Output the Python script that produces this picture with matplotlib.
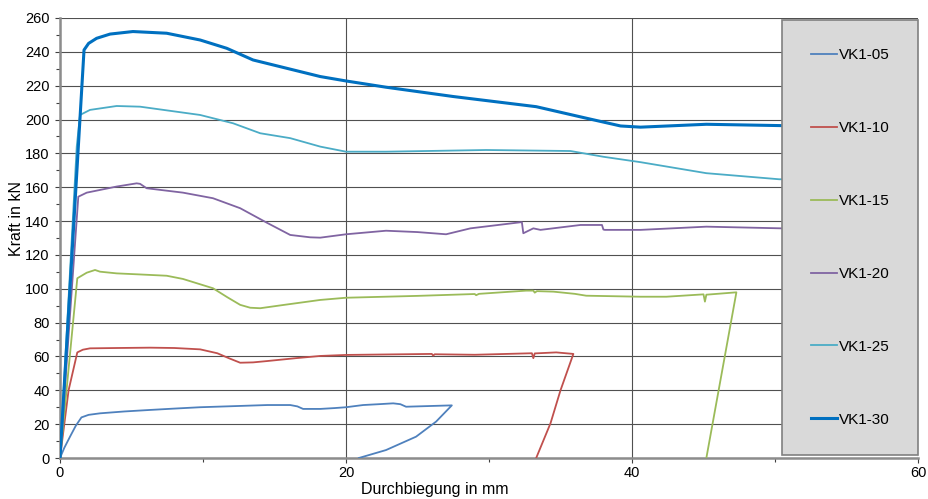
import matplotlib
matplotlib.use("Agg")
import matplotlib.pyplot as plt
from matplotlib.ticker import MultipleLocator

plt.rcParams['font.family'] = ['Liberation Sans', 'DejaVu Sans']

labels = ["VK1-05", "VK1-10", "VK1-15", "VK1-20", "VK1-25", "VK1-30"]
colors = ["#4F81BD", "#C0504D", "#9BBB59", "#8064A2", "#4BACC6", "#0070C0"]

x05 = [0, 0.3, 0.7, 1.1, 1.5, 2.0, 2.8, 4.5, 6.3, 8, 9.8, 12, 14.5, 16.1, 16.6, 17.0, 18.2, 19.2, 20.0, 21.2,
       22.3, 23.3, 23.8, 24.2, 25, 27.4, 26.3, 24.9, 22.8, 20.9]
y05 = [0, 6, 12.6, 19, 24, 25.5, 26.4, 27.5, 28.4, 29.2, 30, 30.6, 31.3, 31.3, 30.5, 29, 29, 29.5, 30, 31.3,
       31.8, 32.3, 31.8, 30.3, 30.5, 31.1, 21.5, 12.6, 4.7, 0]

x10 = [0, 0.6, 1.21, 1.6, 2.1, 4, 6.3, 8, 9.8, 11.0, 11.8, 12.6, 13.5, 14.5, 16.5, 18.2, 20.0, 23, 26.0, 26.1,
       26.2, 29, 33.0, 33.1, 33.2, 34.7, 35.9, 35.0, 34.3, 33.3]
y10 = [0, 40, 62.4, 64, 64.8, 65, 65.2, 65, 64.2, 61.9, 59, 56.3, 56.5, 57.3, 59, 60.3, 60.9, 61.2, 61.5, 60.5,
       61.3, 61, 61.9, 59, 61.8, 62.4, 61.5, 40, 20.5, 0]

x15 = [0, 1.21, 1.87, 2.45, 2.8, 3.96, 5.5, 7.46, 8.6, 10.7, 11.7, 12.6, 13.3, 14.0, 15.6, 18.2, 20.0, 25, 29.0,
       29.1, 29.3, 32.6, 33.1, 33.2, 33.35, 34.5, 36.0, 36.8, 40.6, 42.4, 45.0, 45.1, 45.2, 47.3, 45.2]
y15 = [0, 106.2, 109.5, 111.1, 110.1, 109.1, 108.5, 107.7, 105.8, 100.3, 95, 90.5, 88.8, 88.5, 90.4, 93.4, 94.7,
       95.8, 96.9, 96.2, 97, 98.9, 98.9, 97.7, 98.6, 98.3, 97, 95.9, 95.3, 95.3, 96.7, 92.4, 96.5, 97.9, 0]

x20 = [0, 1.28, 1.87, 3.96, 5.36, 5.6, 6.06, 8.6, 10.7, 12.6, 14.45, 16.1, 17.5, 18.2, 20.0, 22.8, 25, 27.0,
       28.7, 32.2, 32.3, 32.4, 33.1, 33.6, 36.4, 37.9, 38.0, 38.1, 40.6, 45.2, 50.5, 60]
y20 = [0, 154.4, 156.8, 160.4, 162.3, 162, 159.4, 156.8, 153.5, 147.6, 139.1, 131.8, 130.4, 130.2, 132.2, 134.3,
       133.5, 132.2, 135.7, 139.3, 139.3, 132.8, 135.7, 134.8, 137.7, 137.7, 135, 134.8, 134.8, 136.7, 135.7, 133]

x25 = [0, 1.17, 1.4, 2.1, 3.96, 5.6, 9.8, 12.1, 14.0, 16.1, 18.2, 20.0, 22.8, 29.8, 35.7, 38, 40.6, 45.2, 50.3, 60]
y25 = [0, 184, 202.7, 205.7, 208, 207.6, 202.7, 197.8, 191.9, 189, 184, 181, 181, 182, 181.4, 178, 174.8, 168.3,
       164.7, 165]

x30 = [0, 1.68, 2.0, 2.56, 3.5, 5.1, 7.46, 9.8, 11.66, 13.5, 15.85, 18.2, 20.0, 22.8, 27.5, 33.3, 36.8, 39.2,
       40.6, 45.2, 50.5, 60]
y30 = [0, 241.1, 245, 248, 250.5, 252, 251, 247, 242.1, 235.2, 230.3, 225.4, 222.8, 219.1, 213.6, 207.6, 200.8,
       196.2, 195.5, 197.2, 196.4, 193]

series_x = [x05, x10, x15, x20, x25, x30]
series_y = [y05, y10, y15, y20, y25, y30]
widths = [1.3, 1.3, 1.3, 1.3, 1.3, 2.2]

fig = plt.figure(figsize=(9.29, 4.99), dpi=100)
ax = fig.add_axes([60 / 929, 1 - 458 / 499, 858 / 929, 440 / 499])

for xs, ys, c, lab, lw in zip(series_x, series_y, colors, labels, widths):
    ax.plot(xs, ys, color=c, lw=lw, label=lab, solid_joinstyle='round', zorder=3)

ax.set_xlim(0, 60)
ax.set_ylim(0, 260)
ax.xaxis.set_major_locator(MultipleLocator(20))
ax.xaxis.set_minor_locator(MultipleLocator(10))
ax.yaxis.set_major_locator(MultipleLocator(20))
ax.yaxis.set_minor_locator(MultipleLocator(10))
ax.grid(True, which='major', color='#505050', lw=0.8, zorder=1)
ax.set_axisbelow(True)

for s in ['top', 'right']:
    ax.spines[s].set_visible(False)
for s in ['left', 'bottom']:
    ax.spines[s].set_color('#8c8c8c')
    ax.spines[s].set_linewidth(1.8)

ax.tick_params(axis='both', which='major', length=3.5, width=0.8, color='#404040', labelsize=10.5, colors='#000000')
ax.tick_params(axis='both', which='minor', length=3, width=0.8, color='#404040')
ax.tick_params(axis='x', pad=2.5)
ax.tick_params(axis='y', pad=4)

ax.set_xlabel("Durchbiegung in mm", fontsize=11.5)
ax.set_ylabel("Kraft in kN", fontsize=11.5)
ax.xaxis.set_label_coords(0.437, -0.054)
ax.yaxis.set_label_coords(-0.042, 0.545)

leg = ax.legend(loc='upper right', bbox_to_anchor=(1.0, 0.995), borderaxespad=0, fontsize=11,
                labelspacing=3.85, borderpad=1.85, handlelength=1.7, handletextpad=0.15,
                fancybox=False, framealpha=1, facecolor='#d9d9d9', edgecolor='#808080')
leg.get_frame().set_linewidth(1.2)
leg.set_zorder(5)

fig.savefig("out.png", dpi=100)
